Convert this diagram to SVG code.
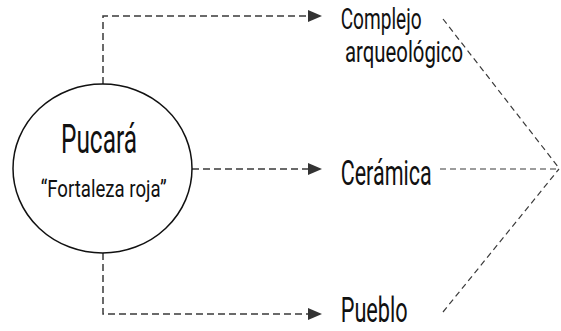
<svg xmlns="http://www.w3.org/2000/svg" width="561" height="331" viewBox="0 0 561 331">
<defs>
<style>
.t{font-family:Roboto,"Liberation Sans",sans-serif;font-weight:400;fill:#111;}
.d{fill:none;stroke:#3a3a3a;stroke-width:1.5;stroke-dasharray:7 4;}
.r{fill:none;stroke:#3a3a3a;stroke-width:1.2;stroke-dasharray:6 4;}
</style>
<marker id="ah" viewBox="0 0 14 12" refX="0" refY="6" markerWidth="14" markerHeight="12" markerUnits="userSpaceOnUse" orient="auto">
<path d="M0,0 L14,6 L0,12 Z" fill="#333"/>
</marker>
</defs>
<rect width="561" height="331" fill="#fff"/>
<g id="connectors">
<path class="d" d="M103,84 V16 H308" marker-end="url(#ah)"/>
<path class="d" d="M192,169 H308" marker-end="url(#ah)"/>
<path class="d" d="M103,253 V314 H308" marker-end="url(#ah)"/>
<path class="r" d="M443,19 L559,168"/>
<path class="r" d="M440,169 L559,169"/>
<path class="r" d="M443,312 L559,169"/>
</g>
<g id="pucara">
<ellipse cx="102.5" cy="168.5" rx="89.5" ry="84.5" fill="#fff" stroke="#111" stroke-width="1.5"/>
<text class="t" x="61" y="153.3" font-size="40" textLength="76" lengthAdjust="spacingAndGlyphs">Pucará</text>
<text class="t" x="40.7" y="197.3" font-size="24" textLength="126" lengthAdjust="spacingAndGlyphs">“Fortaleza roja”</text>
</g>
<g id="complejo">
<text class="t" x="340.7" y="29" font-size="29" textLength="81" lengthAdjust="spacingAndGlyphs">Complejo</text>
<text class="t" x="345" y="62" font-size="29" textLength="118" lengthAdjust="spacingAndGlyphs">arqueológico</text>
</g>
<g id="ceramica">
<text class="t" x="340.7" y="185" font-size="35" textLength="91" lengthAdjust="spacingAndGlyphs">Cerámica</text>
</g>
<g id="pueblo">
<text class="t" x="340.7" y="322.3" font-size="35" textLength="67" lengthAdjust="spacingAndGlyphs">Pueblo</text>
</g>
</svg>
